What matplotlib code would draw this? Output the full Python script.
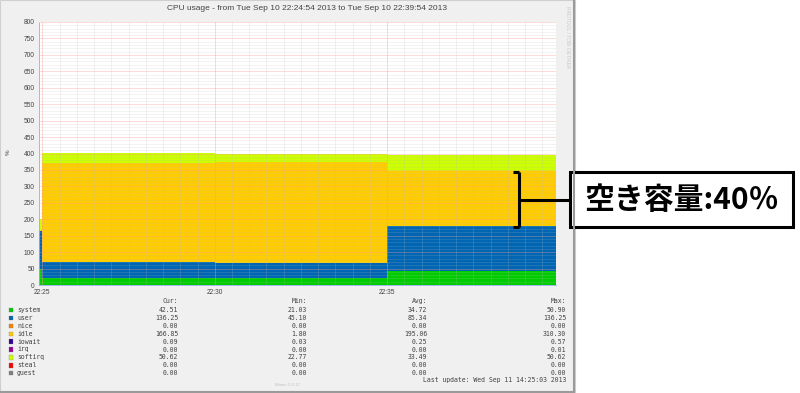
import matplotlib
matplotlib.use("Agg")
import matplotlib.pyplot as plt
from matplotlib.patches import Rectangle
from matplotlib.lines import Line2D
from matplotlib.ticker import MultipleLocator, FuncFormatter
import numpy as np

# sample times and stacked series (percent)
times = ["22:24:54", "22:25:00", "22:30:00", "22:35:00", "22:39:54"]
series = ["system", "user", "nice", "idle", "iowait", "irq", "softirq", "steal", "guest"]
colors = ["#00CC00", "#0066B3", "#FF8000", "#FFCC00", "#330099",
          "#990099", "#CCFF00", "#FF0000", "#808080"]
system = [49.0, 22.0, 20.0, 42.51, 42.51]
user = [116.0, 47.0, 46.0, 136.25, 136.25]
nice = [0, 0, 0, 0, 0]
idle = [1.8, 301.0, 309.0, 166.85, 166.85]
iowait = [0.57, 0.2, 0.1, 0.09, 0.09]
irq = [0, 0, 0, 0.01, 0]
softirq = [33.0, 30.0, 24.0, 50.62, 50.62]
steal = [0, 0, 0, 0, 0]
guest = [0, 0, 0, 0, 0]
values = [system, user, nice, idle, iowait, irq, softirq, steal, guest]

cur = ["42.51", "136.25", "0.00", "166.85", "0.09", "0.00", "50.62", "0.00", "0.00"]
mins = ["21.03", "45.10", "0.00", "1.80", "0.03", "0.00", "22.77", "0.00", "0.00"]
avg = ["34.72", "85.34", "0.00", "195.06", "0.25", "0.00", "33.49", "0.00", "0.00"]
maxs = ["50.90", "136.25", "0.00", "310.30", "0.57", "0.01", "50.62", "0.00", "0.00"]

title = "CPU usage - from Tue Sep 10 22:24:54 2013 to Tue Sep 10 22:39:54 2013"
last_update = "Last update: Wed Sep 11 14:25:03 2013"
note = "空き容量:40％"

W, H = 800, 393


def fx(px):
    return px / W


def fy(py):
    return 1 - py / H


def to_min(s):
    h, m, sec = [int(v) for v in s.split(":")]
    return h * 60 + m + sec / 60.0


t = np.array([to_min(s) for s in times])

fig = plt.figure(figsize=(8, 3.93), dpi=100)
fig.patch.set_facecolor("white")

# grey munin panel
fig.add_artist(Rectangle((0, fy(392)), fx(575), 1 - fy(392), transform=fig.transFigure,
                         facecolor="#F0F0F0", edgecolor="#CFCFCF", lw=0.8, zorder=0))
fig.add_artist(Line2D([fx(574), fx(574)], [fy(392), fy(0)], transform=fig.transFigure,
                      color="#9A9A9A", lw=1.5))
fig.add_artist(Line2D([fx(0), fx(574)], [fy(392), fy(392)], transform=fig.transFigure,
                      color="#9A9A9A", lw=1.5))

ax = fig.add_axes([fx(39), fy(285), fx(556) - fx(39), fy(22) - fy(285)])
ax.set_facecolor("white")

base = np.zeros(len(t))
for vals, c in zip(values, colors):
    top = base + np.array(vals, dtype=float)
    ax.fill_between(t, base, top, step="post", color=c, lw=0, zorder=2)
    base = top

ax.set_xlim(t[0], t[-1])
ax.set_ylim(0, 800)

# grid lines over the areas, like rrdtool
for y in range(0, 801, 10):
    if y % 50 == 0:
        ax.axhline(y, color="#FF9999", lw=0.5, alpha=0.5, zorder=3)
    else:
        ax.axhline(y, color="#BBBBBB", lw=0.4, alpha=0.3, zorder=3)
xm = np.arange(np.ceil(t[0] * 2) / 2, t[-1], 0.5)
for x in xm:
    if abs(x % 5) < 1e-6:
        ax.axvline(x, color="#FF9999", lw=0.5, alpha=0.55, zorder=3)
    else:
        ax.axvline(x, color="#BBBBBB", lw=0.4, alpha=0.35, zorder=3)

for s in ["top", "right"]:
    ax.spines[s].set_visible(False)
for s in ["left", "bottom"]:
    ax.spines[s].set_color("#99AAEE")
    ax.spines[s].set_linestyle((0, (1, 1)))
    ax.spines[s].set_linewidth(0.6)

ax.yaxis.set_major_locator(MultipleLocator(50))
ax.xaxis.set_major_locator(MultipleLocator(5))
ax.xaxis.set_major_formatter(FuncFormatter(lambda v, p: "%02d:%02d" % (int(round(v)) // 60, int(round(v)) % 60)))
ax.tick_params(length=0, labelsize=4.8, colors="#444444", pad=3)
for lab in ax.get_xticklabels() + ax.get_yticklabels():
    lab.set_family("Liberation Sans")

fig.text(fx(307), fy(9), title, ha="center", va="center", fontsize=6,
         family="Liberation Sans", color="#444444")
fig.text(fx(8), fy(152), "%", ha="center", va="center", fontsize=4.5, rotation=90,
         family="Liberation Sans", color="#444444")
fig.text(fx(567), fy(6), "RRDTOOL / TOBI OETIKER", ha="center", va="top", fontsize=3.6,
         rotation=270, family="Liberation Sans", color="#C8C8C8")

# legend table
mono = dict(family="DejaVu Sans Mono", fontsize=4.7, color="#444444")
fig.text(fx(178), fy(301), "Cur:", ha="right", va="center", **mono)
fig.text(fx(307), fy(301), "Min:", ha="right", va="center", **mono)
fig.text(fx(427), fy(301), "Avg:", ha="right", va="center", **mono)
fig.text(fx(566), fy(301), "Max:", ha="right", va="center", **mono)
for i, name in enumerate(series):
    yy = 310 + i * 7.9
    fig.add_artist(Rectangle((fx(8.5), fy(yy + 2.2)), fx(4.4), fy(0) - fy(4.4),
                             transform=fig.transFigure, facecolor=colors[i],
                             edgecolor="#777777", lw=0.2))
    fig.text(fx(17), fy(yy), name, ha="left", va="center", **mono)
    fig.text(fx(178), fy(yy), cur[i], ha="right", va="center", **mono)
    fig.text(fx(307), fy(yy), mins[i], ha="right", va="center", **mono)
    fig.text(fx(427), fy(yy), avg[i], ha="right", va="center", **mono)
    fig.text(fx(566), fy(yy), maxs[i], ha="right", va="center", **mono)
fig.text(fx(566), fy(380), last_update, ha="right", va="center", **mono)
fig.text(fx(288), fy(385), "Munin 2.0.17", ha="center", va="center", fontsize=3.2,
         family="Liberation Sans", color="#C0C0C0")

# callout bracket and box
lw = 2.2
for xs, ys in [([513, 519], [172, 172]), ([519, 519], [172, 227]),
               ([513, 519], [227, 227]), ([519, 570], [200, 200])]:
    fig.add_artist(Line2D([fx(v) for v in xs], [fy(v) for v in ys],
                          transform=fig.transFigure, color="black", lw=lw,
                          solid_capstyle="butt"))
fig.add_artist(Rectangle((fx(570), fy(227)), fx(793) - fx(570), fy(172) - fy(227),
                         transform=fig.transFigure, facecolor="white",
                         edgecolor="black", lw=lw))
fig.text(fx(681), fy(200), note, ha="center", va="center", fontsize=21.5,
         fontweight="bold", family=["Noto Sans CJK JP", "DejaVu Sans"], color="black")

fig.savefig("out.png", dpi=100)
